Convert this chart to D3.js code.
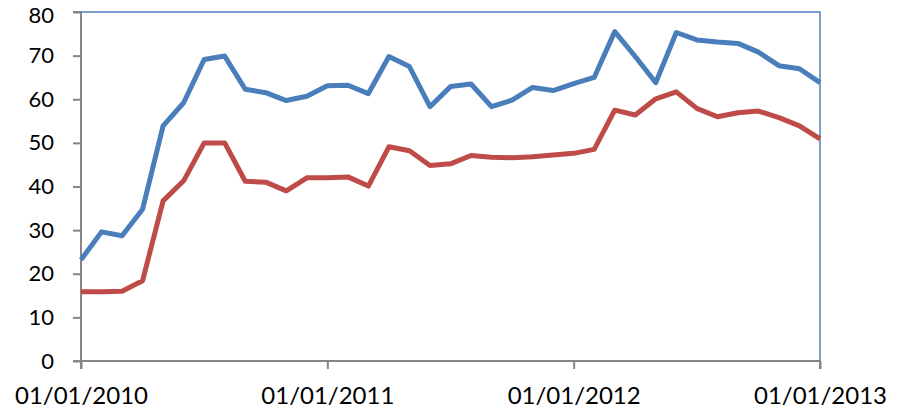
<!DOCTYPE html>
<html>
<head>
<meta charset="utf-8">
<script src="https://cdn.jsdelivr.net/npm/d3@7"></script>
<style>
  html, body { margin: 0; padding: 0; background: #fff; }
  svg text { font-family: Lato, "Open Sans", sans-serif; fill: #000; }
</style>
</head>
<body>
<svg id="chart" width="910" height="412"></svg>
<script>
// Monthly observations, 01/01/2010 .. 01/01/2013
const startDate = "2010-01-01";
const monthCount = 37;
const seriesBlue = [23.2, 29.6, 28.7, 34.8, 53.9, 59.2, 69.1, 69.9, 62.3, 61.5, 59.7, 60.7,
                    63.1, 63.2, 61.3, 69.8, 67.5, 58.3, 62.9, 63.5, 58.3, 59.8, 62.7, 62.0,
                    63.6, 65.0, 75.5, 69.8, 63.8, 75.3, 73.6, 73.1, 72.8, 70.8, 67.7, 67.0, 63.8];
const seriesRed = [15.9, 15.9, 16.0, 18.4, 36.7, 41.3, 50.0, 50.0, 41.2, 41.0, 39.0, 42.0,
                   42.0, 42.2, 40.1, 49.1, 48.2, 44.8, 45.2, 47.1, 46.7, 46.6, 46.8, 47.2,
                   47.6, 48.5, 57.5, 56.4, 60.1, 61.7, 57.9, 56.0, 56.9, 57.3, 55.8, 53.9, 50.9];
const yTicks = [0, 10, 20, 30, 40, 50, 60, 70, 80];
const xTickLabels = ["01/01/2010", "01/01/2011", "01/01/2012", "01/01/2013"];
const xTickIndex = [0, 12, 24, 36];

(function () {
const svg = d3.select("#chart");
const mL = 81, mR = 820, mT = 12, mB = 361;

const x = d3.scaleLinear().domain([0, monthCount - 1]).range([mL, mR]);
const y = d3.scaleLinear().domain([0, 80]).range([mB, mT]);

// plot area border (top & right, blue)
svg.append("path")
  .attr("d", `M${mL},${mT}H${mR}V${mB}`)
  .attr("fill", "none")
  .attr("stroke", "#4f81bd")
  .attr("stroke-width", 1.5);

// Y axis
const yAxis = d3.axisLeft(y).tickValues(yTicks).tickSize(8).tickPadding(19).tickFormat(d3.format("d"));
const gy = svg.append("g").attr("transform", `translate(${mL},0)`).call(yAxis);
gy.select(".domain").attr("stroke", "#868686").attr("stroke-width", 2).attr("d", `M-8,${mB}H0V${mT}H-8`);
gy.selectAll(".tick line").attr("stroke", "#868686").attr("stroke-width", 2);
gy.selectAll(".tick text").attr("font-size", "22px").attr("font-family", "Lato").attr("fill", "#000")
  .attr("y", d => d === 80 ? 3 : 0);

// X axis
const xAxis = d3.axisBottom(x).tickValues(xTickIndex).tickSize(8).tickPadding(18)
  .tickFormat((d, i) => xTickLabels[i]);
const gx = svg.append("g").attr("transform", `translate(0,${mB})`).call(xAxis);
gx.select(".domain").attr("stroke", "#868686").attr("stroke-width", 2).attr("d", `M${mL},8V0H${mR}V8`);
gx.selectAll(".tick line").attr("stroke", "#868686").attr("stroke-width", 2);
gx.selectAll(".tick text").attr("font-size", "24px").attr("font-family", "Lato").attr("fill", "#000");

const line = d3.line().x((d, i) => x(i)).y(d => y(d));

svg.append("path").datum(seriesBlue)
  .attr("d", line).attr("fill", "none")
  .attr("stroke", "#4a7ebb").attr("stroke-width", 5).attr("stroke-linejoin", "round");
svg.append("path").datum(seriesRed)
  .attr("d", line).attr("fill", "none")
  .attr("stroke", "#be4b48").attr("stroke-width", 5).attr("stroke-linejoin", "round");
})();
</script>
</body>
</html>
